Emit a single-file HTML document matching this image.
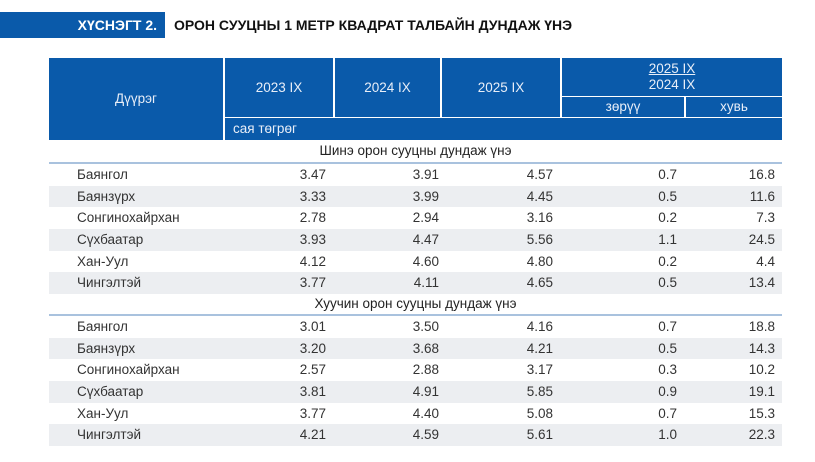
<!DOCTYPE html>
<html><head><meta charset="utf-8"><style>
body{margin:0;width:815px;height:462px;background:#fff;font-family:"Liberation Sans",sans-serif;position:relative;overflow:hidden}
.tb{position:absolute;left:0;top:12px;width:165px;height:26px;background:#0a5aaa;color:#fff;font-weight:bold;font-size:14px;line-height:26px;text-align:right;box-sizing:border-box;padding-right:8px}
.tt{position:absolute;left:174px;top:12px;line-height:26px;font-weight:bold;font-size:14px;color:#111}
.h{position:absolute;background:#0a5aaa;color:#e8eef8;font-size:13.5px;text-align:center;box-sizing:border-box}
.r{position:absolute;left:49px;width:733px;height:21.7px;font-size:13.5px;color:#333;line-height:21.7px}
.r.g{background:#eceef1}
.r span{position:absolute;text-align:right}
.n{left:28px!important;text-align:left!important}
.line{position:absolute;left:49px;width:733px;height:2px;background:#a9c2de}
.st{position:absolute;left:49px;width:733px;text-align:center;font-size:13.5px;color:#222;line-height:22px}
</style></head><body>
<div class="tb">ХҮСНЭГТ 2.</div>
<div class="tt">ОРОН СУУЦНЫ 1 МЕТР КВАДРАТ ТАЛБАЙН ДУНДАЖ ҮНЭ</div>
<div class="h" style="left:49px;top:58px;width:174px;height:82px;line-height:82px">Дүүрэг</div>
<div class="h" style="left:225px;top:58px;width:108px;height:59px;line-height:59px">2023 IX</div>
<div class="h" style="left:335px;top:58px;width:105px;height:59px;line-height:59px">2024 IX</div>
<div class="h" style="left:442px;top:58px;width:118px;height:59px;line-height:59px">2025 IX</div>
<div class="h" style="left:562px;top:58px;width:220px;height:38px;line-height:16px;padding-top:3px"><span style="text-decoration:underline">2025 IX</span><br>2024 IX</div>
<div class="h" style="left:562px;top:97px;width:122px;height:20px;line-height:20px">зөрүү</div>
<div class="h" style="left:686px;top:97px;width:96px;height:20px;line-height:20px">хувь</div>
<div class="h" style="left:225px;top:118px;width:557px;height:22px;line-height:21px;text-align:left;padding-left:8px">сая төгрөг</div>
<div class="st" style="top:140px">Шинэ орон сууцны дундаж үнэ</div>
<div class="line" style="top:162px"></div>
<div class="line" style="top:292px"></div>
<div class="st" style="top:293px">Хуучин орон сууцны дундаж үнэ</div>
<div class="line" style="top:314px"></div>
<div id="rows"></div>
<script>
var d=[["Баянгол","3.47","3.91","4.57","0.7","16.8"],["Баянзүрх","3.33","3.99","4.45","0.5","11.6"],["Сонгинохайрхан","2.78","2.94","3.16","0.2","7.3"],["Сүхбаатар","3.93","4.47","5.56","1.1","24.5"],["Хан-Уул","4.12","4.60","4.80","0.2","4.4"],["Чингэлтэй","3.77","4.11","4.65","0.5","13.4"],
["Баянгол","3.01","3.50","4.16","0.7","18.8"],["Баянзүрх","3.20","3.68","4.21","0.5","14.3"],["Сонгинохайрхан","2.57","2.88","3.17","0.3","10.2"],["Сүхбаатар","3.81","4.91","5.85","0.9","19.1"],["Хан-Уул","3.77","4.40","5.08","0.7","15.3"],["Чингэлтэй","4.21","4.59","5.61","1.0","22.3"]];
var ends=[326,439,553,677,775],h="";
d.forEach(function(r,i){var top=(i<6?164:316)+(i%6)*21.67;
h+='<div class="r'+(i%2?' g':'')+'" style="top:'+top+'px"><span class="n">'+r[0]+'</span>';
for(var k=1;k<6;k++)h+='<span style="right:'+(782-ends[k-1])+'px">'+r[k]+'</span>';
h+='</div>';});
document.getElementById('rows').innerHTML=h;
</script>
</body></html>
